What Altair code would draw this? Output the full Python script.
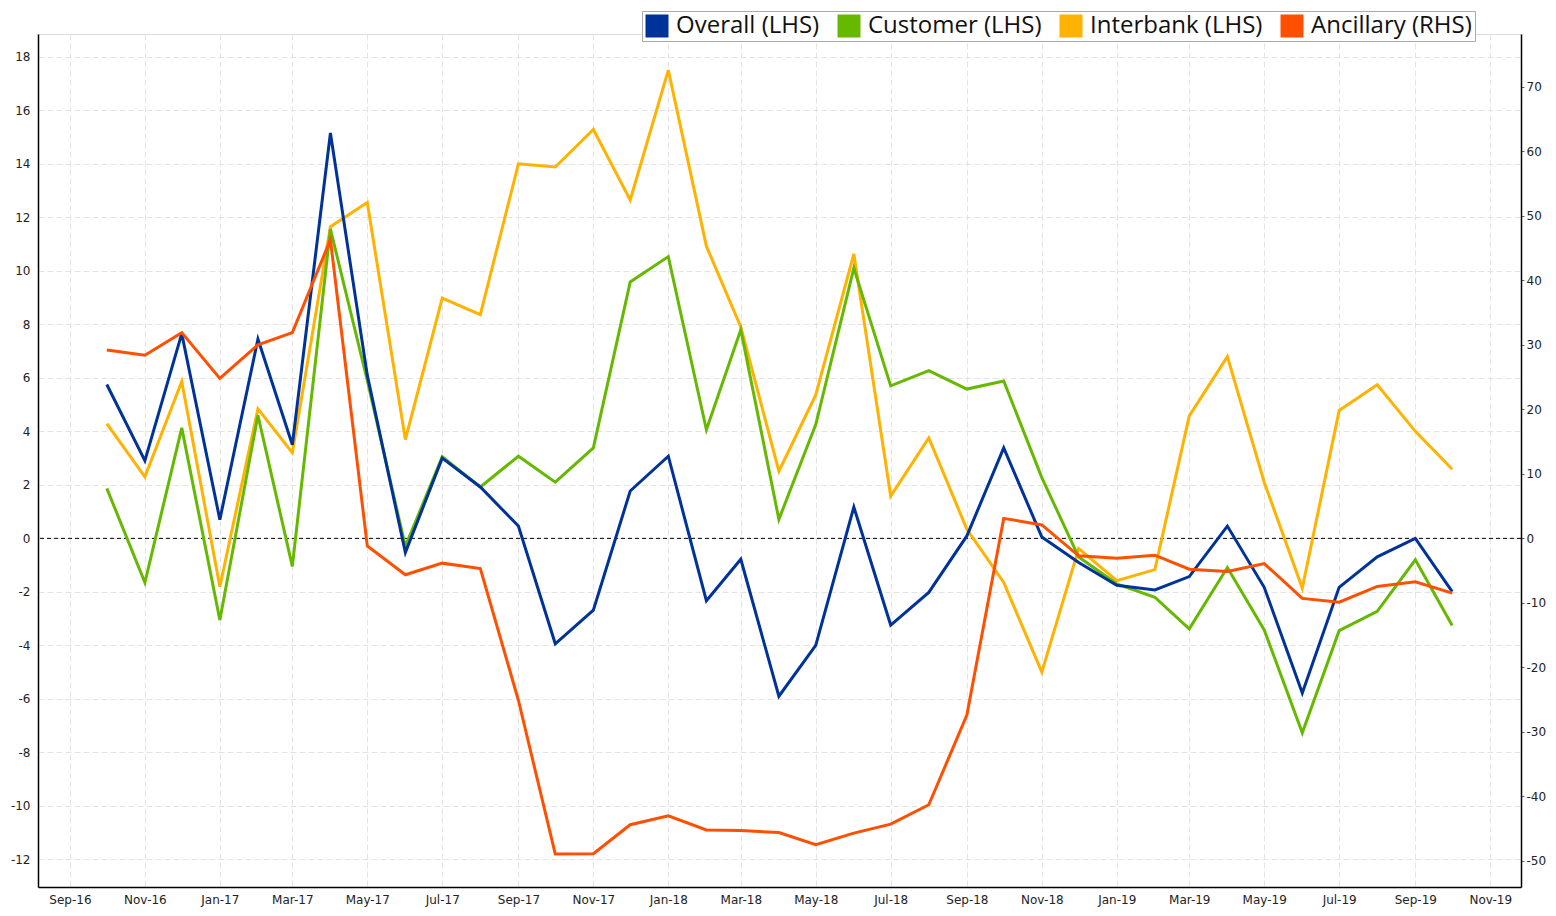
import altair as alt
import pandas as pd

months = [
    "2016-10-01", "2016-11-01", "2016-12-01", "2017-01-01", "2017-02-01", "2017-03-01",
    "2017-04-01", "2017-05-01", "2017-06-01", "2017-07-01", "2017-08-01", "2017-09-01",
    "2017-10-01", "2017-11-01", "2017-12-01", "2018-01-01", "2018-02-01", "2018-03-01",
    "2018-04-01", "2018-05-01", "2018-06-01", "2018-07-01", "2018-08-01", "2018-09-01",
    "2018-10-01", "2018-11-01", "2018-12-01", "2019-01-01", "2019-02-01", "2019-03-01",
    "2019-04-01", "2019-05-01", "2019-06-01", "2019-07-01", "2019-08-01", "2019-09-01",
    "2019-10-01",
]

overall = [5.75, 2.9, 7.65, 0.7, 7.45, 3.5, 15.15, 6.1, -0.53, 3.0, 1.92, 0.46,
           -3.94, -2.68, 1.77, 3.07, -2.33, -0.78, -5.9, -4.0, 1.17, -3.24, -2.02, 0.09,
           3.38, 0.05, -0.9, -1.75, -1.93, -1.43, 0.46, -1.83, -5.78, -1.83, -0.69, 0.0, -1.99]
customer = [1.87, -1.65, 4.13, -3.05, 4.6, -1.05, 11.56, 5.9, -0.3, 3.05, 1.92, 3.07,
            2.1, 3.38, 9.58, 10.53, 4.06, 7.8, 0.71, 4.25, 10.1, 5.7, 6.27, 5.58,
            5.88, 2.27, -0.7, -1.7, -2.2, -3.38, -1.09, -3.42, -7.27, -3.45, -2.73, -0.8, -3.26]
interbank = [4.29, 2.3, 5.86, -1.81, 4.84, 3.2, 11.65, 12.55, 3.69, 8.98, 8.36, 14.0,
             13.88, 15.28, 12.65, 17.5, 10.92, 7.9, 2.51, 5.36, 10.63, 1.58, 3.75, 0.34,
             -1.65, -5.0, -0.38, -1.58, -1.17, 4.58, 6.79, 2.1, -1.86, 4.78, 5.74, 4.0, 2.58]
ancillary = [29.2, 28.4, 31.9, 24.8, 30.0, 31.9, 46.3, -1.16, -5.64, -3.84, -4.67, -25.1,
             -48.95, -48.9, -44.4, -43.0, -45.2, -45.3, -45.6, -47.5, -45.7, -44.3, -41.3, -27.4,
             3.1, 2.08, -2.7, -3.07, -2.6, -4.77, -5.13, -3.9, -9.3, -9.9, -7.45, -6.72, -8.48]

series_names = ["Overall (LHS)", "Customer (LHS)", "Interbank (LHS)", "Ancillary (RHS)"]
series_colors = ["#003399", "#66B800", "#FFB300", "#FF4F00"]

x_tick_months = [(2016, 9), (2016, 11), (2017, 1), (2017, 3), (2017, 5), (2017, 7),
                 (2017, 9), (2017, 11), (2018, 1), (2018, 3), (2018, 5), (2018, 7),
                 (2018, 9), (2018, 11), (2019, 1), (2019, 3), (2019, 5), (2019, 7),
                 (2019, 9), (2019, 11)]
left_ticks = [-12, -10, -8, -6, -4, -2, 0, 2, 4, 6, 8, 10, 12, 14, 16, 18]
right_ticks = [-50, -40, -30, -20, -10, 0, 10, 20, 30, 40, 50, 60, 70]

frames = []
for name, vals in zip(series_names, [overall, customer, interbank, ancillary]):
    frames.append(pd.DataFrame({"date": months, "series": name, "value": vals}))
df = pd.concat(frames, ignore_index=True)

grid_color = "#e4e4e4"
label_font = "DejaVu Sans"
hyphen_expr = "datum.value < 0 ? '-' + abs(datum.value) : '' + datum.value"

x_enc = alt.X(
    "date:T",
    scale=alt.Scale(
        type="utc",
        domain=[alt.DateTime(year=2016, month=8, date=6, utc=True),
                alt.DateTime(year=2019, month=11, date=26, utc=True)],
    ),
    axis=alt.Axis(
        values=[alt.DateTime(year=y, month=m, date=1, utc=True) for y, m in x_tick_months],
        labelExpr="utcFormat(datum.value, '%b-%y')", title=None,
        grid=True, gridDash=[6, 3], gridColor=grid_color, gridWidth=1,
        domainColor="black", domainWidth=1.5, tickSize=0, labelPadding=7,
        labelFont=label_font, labelFontSize=12, labelColor="#222",
    ),
)

left_scale = alt.Scale(domain=[-13.03, 18.85], nice=False, zero=False)
left_axis = alt.Axis(
    values=left_ticks, title=None, orient="left", labelExpr=hyphen_expr,
    grid=True, gridDash=[6, 3], gridColor=grid_color, gridWidth=1,
    domainColor="black", domainWidth=1.5, tickSize=0, labelPadding=8,
    labelFont=label_font, labelFontSize=12, labelColor="#222",
)
right_scale = alt.Scale(domain=[-54.05, 78.2], nice=False, zero=False)
right_axis = alt.Axis(
    values=right_ticks, title=None, orient="right", grid=False, labelExpr=hyphen_expr,
    domainColor="black", domainWidth=1.5, tickSize=3, tickColor="#666", labelPadding=2,
    labelFont=label_font, labelFontSize=12, labelColor="#222",
)

color_enc = alt.Color(
    "series:N",
    scale=alt.Scale(domain=series_names, range=series_colors),
    legend=alt.Legend(
        title=None, orient="none", legendX=604, legendY=-23,
        direction="horizontal", columns=4,
        symbolType="square", symbolSize=529, symbolStrokeWidth=0, symbolOpacity=1,
        labelFont="Open Sans", labelFontSize=24, labelColor="#111", labelLimit=400,
        strokeColor="#aaaaaa", fillColor="white", padding=3,
        columnPadding=17, labelOffset=7,
    ),
)

base = alt.Chart(df)


def series_line(name, y_enc):
    return base.transform_filter(alt.datum.series == name).mark_line(
        strokeWidth=3, strokeJoin="miter"
    ).encode(x=x_enc, y=y_enc, color=color_enc)


y_left = alt.Y("value:Q", scale=left_scale, axis=left_axis)
y_right = alt.Y("value:Q", scale=right_scale, axis=right_axis)

# invisible filled squares so that the shared legend shows filled swatches
legend_swatch = base.transform_filter(alt.datum.date == "2016-10-01").mark_square(
    filled=True, size=0, opacity=1
).encode(x=x_enc, y=y_left, color=color_enc)

zero_rule = alt.Chart(pd.DataFrame({"z": [0]})).mark_rule(
    color="black", strokeDash=[4, 3], strokeWidth=1
).encode(y=alt.Y("z:Q", scale=left_scale, axis=left_axis))

left = alt.layer(
    legend_swatch,
    zero_rule,
    series_line("Interbank (LHS)", y_left),
    series_line("Customer (LHS)", y_left),
    series_line("Overall (LHS)", y_left),
)
right = series_line("Ancillary (RHS)", y_right)

chart = alt.layer(left, right).resolve_scale(y="independent").properties(
    width=1483, height=853,
    autosize=alt.AutoSizeParams(type="none"),
    padding={"left": 30, "top": 26, "right": 25, "bottom": 20},
).configure_view(strokeWidth=0).configure(background="white")

chart.save("out.html", embed_options={"renderer": "svg", "actions": False})
